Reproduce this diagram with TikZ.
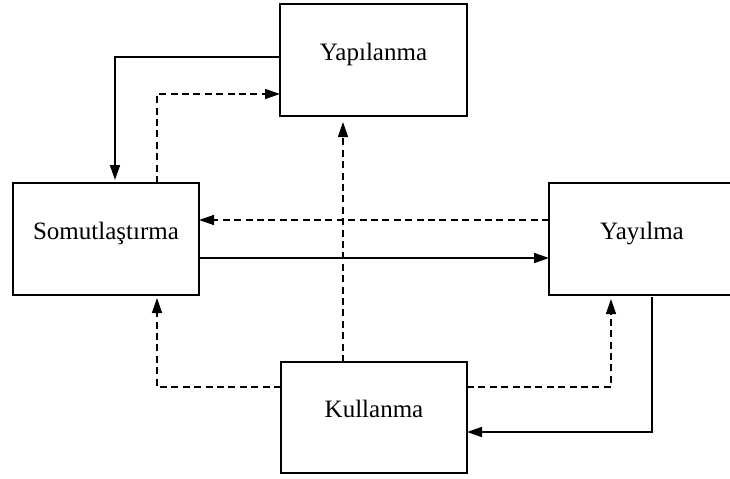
\documentclass[tikz,border=0pt]{standalone}
\usepackage{fontspec}
\setmainfont{Liberation Serif}
\usetikzlibrary{arrows.meta}
\begin{document}
\begin{tikzpicture}[x=0.5pt,y=-0.5pt,
    kutu/.style={draw,line width=1pt,inner sep=0pt,outer sep=0pt,minimum width=93pt,minimum height=56pt,text height=1em,text depth=1em,font=\fontsize{12.5}{15}\selectfont},
    akis/.style={line width=0.85pt,-{Triangle[length=7.5pt,width=5pt]}},
    kesik/.style={line width=0.7pt,dash pattern=on 3.5pt off 2.2pt,-{Triangle[length=7.5pt,width=5pt]}}]
                \clip (0,0) rectangle (730,478);
                \node[kutu,minimum width=93.5pt] (yap) at (373.5,60) {Yapılanma};
                \node[kutu] (som) at (106,239) {Somutlaştırma};
                \node[kutu] (yay) at (642,239) {Yayılma};
                \node[kutu,minimum height=55.5pt] (kul) at (374,417.5) {Kullanma};
                \draw[akis,shorten >=1.5pt] ([yshift=1.5pt]yap.west) -| ([xshift=4.5pt]som.north);
                \draw[kesik] ([xshift=25.5pt]som.north) |- ([yshift=-17pt]yap.west);
                \draw[kesik] ([yshift=9.5pt]yay.west) -- ([yshift=9.5pt]som.east);
                \draw[akis] ([yshift=-9.5pt]som.east) -- ([yshift=-9.5pt]yay.west);
                \draw[kesik,shorten >=3pt] ([xshift=-15.5pt]kul.north) -- ([xshift=-15.5pt]kul.north |- yap.south);
                \draw[kesik,shorten >=1.5pt] ([yshift=15.25pt]kul.west) -| ([xshift=25.5pt]som.south);
                \draw[kesik,shorten >=2pt] ([yshift=15.25pt]kul.east) -| ([xshift=-15.5pt]yay.south);
                \draw[akis,shorten <=1pt] ([xshift=5pt]yay.south) |- ([yshift=-7.25pt]kul.east);
            \end{tikzpicture}
\end{document}
